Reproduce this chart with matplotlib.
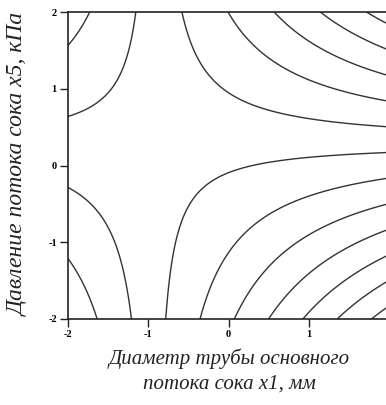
import numpy as np
import matplotlib
matplotlib.use("Agg")
import matplotlib.pyplot as plt

# Regression model coefficients (coded factors x1, x5)
b0 = -0.91
b1 = -0.30
b5 = 0.96
b15 = 1.02
levels = [-8, -7, -6, -5, -4, -3, -2, -1, 0, 1, 2, 3, 4, 5]

x_ticks = [-2, -1, 0, 1, 2]
y_ticks = [-2, -1, 0, 1, 2]
x_label = "Диаметр трубы основного\nпотока сока x1, мм"
y_label = "Давление потока сока x5, кПа"

x1 = np.linspace(-2, 2, 301)
x5 = np.linspace(-2, 2, 301)
X1, X5 = np.meshgrid(x1, x5)
Y = b0 + b1 * X1 + b5 * X5 + b15 * X1 * X5

fig = plt.figure(figsize=(3.86, 4.05), dpi=100)
ax = fig.add_axes([68 / 386, 86 / 405, 321 / 386, 307 / 405])
ax.contour(X1, X5, Y, levels=levels, colors="#333333", linewidths=1.0,
           linestyles="solid")
ax.set_xlim(-2, 2)
ax.set_ylim(-2, 2)
ax.set_xticks(x_ticks)
ax.set_yticks(y_ticks)
ax.set_xticklabels([str(t) for t in x_ticks], fontsize=7.5, fontweight="bold",
                   family="Liberation Serif")
ax.set_yticklabels([str(t) for t in y_ticks], fontsize=7.5, fontweight="bold",
                   family="Liberation Serif")
ax.tick_params(direction="out", length=6, width=1, color="#222222", pad=2)
for s in ax.spines.values():
    s.set_linewidth(1.2)
    s.set_color("#222222")

fig.text(229 / 386, 1 - 371 / 405, x_label, ha="center", va="center",
         fontsize=15, style="italic", family="Liberation Serif",
         linespacing=1.4, color="#222222")
fig.text(18 / 386, 1 - 164 / 405, y_label, ha="center", va="center",
         rotation=90, fontsize=17, style="italic", family="Liberation Serif",
         color="#222222")

fig.savefig("out.png", dpi=100)
